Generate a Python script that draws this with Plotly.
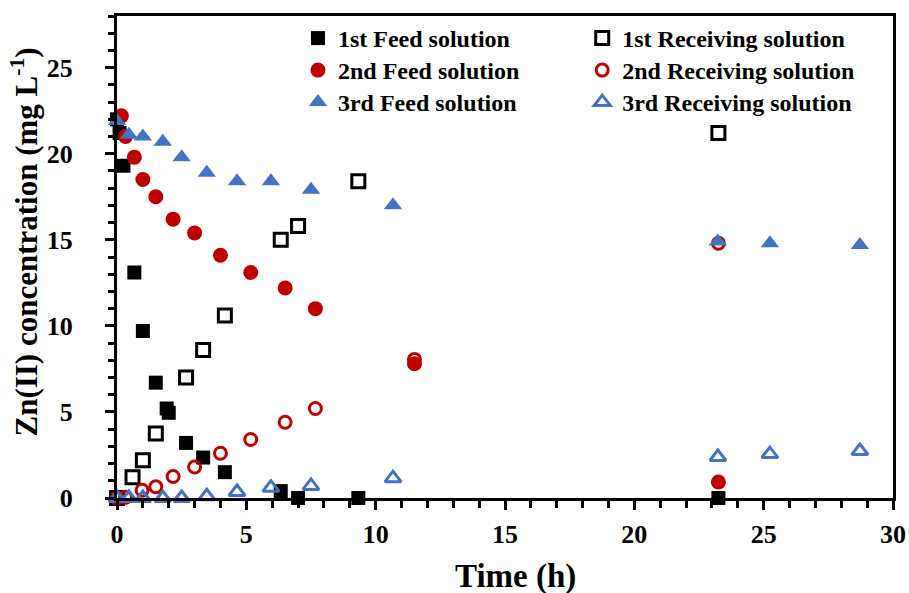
import plotly.graph_objects as go

# ---- data ----
t1_feed = [0, 0.1, 0.25, 0.67, 1.0, 1.5, 1.92, 2.0, 2.67, 3.33, 4.17, 6.33, 7.0, 9.33, 23.25]
c1_feed = [22.0, 21.2, 19.3, 13.1, 9.7, 6.7, 5.2, 4.95, 3.2, 2.35, 1.5, 0.4, 0.0, 0.0, 0.0]
t1_rec = [0, 0.6, 1.0, 1.5, 2.67, 3.33, 4.17, 6.33, 7.0, 9.33, 23.25]
c1_rec = [0.0, 1.2, 2.2, 3.75, 7.0, 8.6, 10.6, 15.0, 15.8, 18.4, 21.2]

t2_feed = [0.17, 0.33, 0.67, 1.0, 1.5, 2.17, 3.0, 4.0, 5.17, 6.5, 7.67, 11.5, 23.25]
c2_feed = [22.2, 21.0, 19.8, 18.5, 17.5, 16.2, 15.4, 14.1, 13.1, 12.2, 11.0, 7.8, 0.93]
t2_rec = [0, 0.33, 0.97, 1.5, 2.17, 3.0, 4.0, 5.17, 6.5, 7.67, 11.5, 23.25]
c2_rec = [0.0, 0.05, 0.45, 0.65, 1.25, 1.8, 2.6, 3.4, 4.4, 5.2, 8.05, 14.8]

t3_feed = [0, 0.46, 1.0, 1.77, 2.5, 3.47, 4.64, 5.95, 7.5, 10.67, 23.23, 25.24, 28.72]
c3_feed = [21.9, 21.1, 21.0, 20.7, 19.8, 18.9, 18.4, 18.4, 17.9, 17.0, 14.9, 14.8, 14.7]
t3_rec = [0, 0.46, 1.0, 1.77, 2.5, 3.47, 4.64, 5.95, 7.5, 10.67, 23.23, 25.24, 28.72]
c3_rec = [0.0, 0.0, 0.0, 0.0, 0.0, 0.1, 0.35, 0.6, 0.7, 1.15, 2.38, 2.55, 2.73]

series_names = ["1st Feed solution", "1st Receiving solution",
                "2nd Feed solution", "2nd Receiving solution",
                "3rd Feed solution", "3rd Receiving solution"]

x_title = "Time (h)"
y_title = "Zn(II) concentration (mg L<sup>-1</sup>)"

BLACK = "#000000"
RED = "#C00000"
BLUE = "#4472C4"
FONT = "Liberation Serif"

series = [
    (series_names[0], t1_feed, c1_feed, "square", BLACK, 14),
    (series_names[1], t1_rec, c1_rec, "square-open", BLACK, 13),
    (series_names[2], t2_feed, c2_feed, "circle", RED, 15),
    (series_names[3], t2_rec, c2_rec, "circle-open", RED, 12),
    (series_names[4], t3_feed, c3_feed, "triangle-up", BLUE, 16),
    (series_names[5], t3_rec, c3_rec, "triangle-up-open", BLUE, 14),
]

# legend placement: two columns x three rows, one legend per entry
col_x = [0.2332, 0.5995]
row_y = [1.0, 0.9336, 0.8672]
legend_ids = ["legend", "legend2", "legend3", "legend4", "legend5", "legend6"]

fig = go.Figure()
for i, (name, x, y, sym, col, sz) in enumerate(series):
    fig.add_trace(go.Scatter(
        x=x, y=y, mode="markers", name=name, cliponaxis=False,
        legend=legend_ids[i],
        marker=dict(symbol=sym, color=col, size=sz,
                    line=dict(width=3 if "open" in sym else 0, color=col)),
    ))

axis_common = dict(
    showgrid=False, zeroline=False, showline=True, linecolor="black", linewidth=3,
    mirror=True, ticks="outside", tickcolor="black", tickwidth=2.5, ticklen=9,
    tickfont=dict(family=FONT, size=26, color="black", weight="bold"),
)

fig.update_xaxes(
    range=[0, 30], dtick=5, tick0=0,
    minor=dict(ticks="outside", dtick=1, ticklen=7, tickwidth=2.5, tickcolor="black"),
    ticklabelstandoff=2,
    **axis_common,
)
fig.update_yaxes(
    range=[0, 28], dtick=5, tick0=0,
    minor=dict(ticks="outside", dtick=1, ticklen=6, tickwidth=2.5, tickcolor="black"),
    ticklabelstandoff=27,
    **axis_common,
)

# axis titles placed as annotations for exact positioning
fig.add_annotation(
    text="<b>" + x_title + "</b>",
    xref="paper", yref="paper", x=0.513, y=-0.162,
    xanchor="center", yanchor="middle", showarrow=False,
    font=dict(family=FONT, size=33, color="black"),
)
fig.add_annotation(
    text="<b>" + y_title + "</b>", textangle=-90,
    xref="paper", yref="paper", x=-0.1186, y=0.532,
    xanchor="center", yanchor="middle", showarrow=False,
    font=dict(family=FONT, size=31, color="black"),
)

legend_layout = {}
for i, lid in enumerate(legend_ids):
    legend_layout[lid] = dict(
        x=col_x[i % 2], xanchor="left", y=row_y[i // 2], yanchor="top",
        font=dict(family=FONT, size=24, color="black", weight="bold"),
        bgcolor="rgba(0,0,0,0)", borderwidth=0, itemclick=False,
    )

fig.update_layout(
    width=909, height=593,
    margin=dict(l=117, r=16, t=16, b=95, autoexpand=False),
    paper_bgcolor="white", plot_bgcolor="white",
    font=dict(family=FONT, color="black"),
    showlegend=True,
    **legend_layout,
)

fig.write_html("out.html")
